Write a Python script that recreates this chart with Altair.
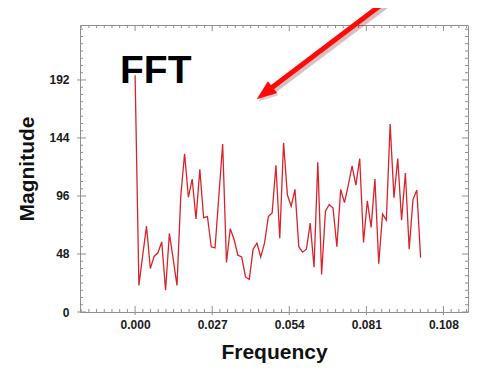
import altair as alt
import pandas as pd

# ---- data ----
freq = [0.0, 0.00133, 0.00267, 0.004, 0.00533, 0.00667, 0.008, 0.00933, 0.01067, 0.012,
        0.01333, 0.01467, 0.016, 0.01733, 0.01867, 0.02, 0.02133, 0.02267, 0.024, 0.02533,
        0.02667, 0.028, 0.02933, 0.03067, 0.032, 0.03333, 0.03467, 0.036, 0.03733, 0.03867,
        0.04, 0.04133, 0.04267, 0.044, 0.04533, 0.04667, 0.048, 0.04933, 0.05067, 0.052,
        0.05333, 0.05467, 0.056, 0.05733, 0.05867, 0.06, 0.06133, 0.06267, 0.064, 0.06533,
        0.06667, 0.068, 0.06933, 0.07067, 0.072, 0.07333, 0.07467, 0.076, 0.07733, 0.07867,
        0.08, 0.08133, 0.08267, 0.084, 0.08533, 0.08667, 0.088, 0.08933, 0.09067, 0.092,
        0.09333, 0.09467, 0.096, 0.09733, 0.09867, 0.1]
magnitude = [196, 22, 47, 71, 36, 46, 49, 58, 18, 65,
             44, 22, 96, 131, 95, 110, 77, 118, 78, 79,
             54, 53, 96, 139, 41, 69, 60, 47, 45.5, 29,
             27, 52, 57, 45.5, 57, 79, 82, 121.5, 61, 140,
             97, 87.5, 101.5, 54, 49.5, 52, 73.5, 37, 124, 31,
             83.5, 89, 86, 54, 101.5, 90.5, 105, 121, 105, 127,
             57.5, 92, 70, 110, 40, 81, 76, 155.6, 94.6, 127,
             76, 115, 52, 93, 101, 45]

x_major = [0.0, 0.027, 0.054, 0.081, 0.108]
x_minor = [-0.0189, -0.0162, -0.0135, -0.0108, -0.0081, -0.0054, -0.0027,
           0.0027, 0.0054, 0.0081, 0.0108, 0.0135, 0.0162, 0.0189, 0.0216, 0.0243,
           0.0297, 0.0324, 0.0351, 0.0378, 0.0405, 0.0432, 0.0459, 0.0486, 0.0513,
           0.0567, 0.0594, 0.0621, 0.0648, 0.0675, 0.0702, 0.0729, 0.0756, 0.0783,
           0.0837, 0.0864, 0.0891, 0.0918, 0.0945, 0.0972, 0.0999, 0.1026, 0.1053,
           0.1107, 0.1134, 0.1161]
y_major = [0, 48, 96, 144, 192]
y_minor = [6, 12, 18, 24, 30, 36, 42, 54, 60, 66, 72, 78, 84, 90, 102, 108, 114, 120,
           126, 132, 138, 150, 156, 162, 168, 174, 180, 186, 198, 204, 210, 216, 222,
           228, 234]

W, H = 388, 287
X_DOM = [-0.0193, 0.1166]
Y_DOM = [0, 237.5]
FRAME = "#8f8f8f"
FONT = "Liberation Sans"

xs = alt.Scale(domain=X_DOM, nice=False, zero=False)
ys = alt.Scale(domain=Y_DOM, nice=False, zero=False)

x_axis = alt.Axis(
    values=x_major, format=".3f", title="Frequency", ticks=False, domain=False,
    grid=False, labelFont=FONT, labelFontSize=12, labelFontWeight="bold",
    labelColor="#1a1a1a", labelPadding=7, titleFont=FONT, titleFontSize=21,
    titleFontWeight="bold", titleColor="#111111", titlePadding=11)
y_axis = alt.Axis(
    values=y_major, title="Magnitude", ticks=False, domain=False, grid=False,
    labelFont=FONT, labelFontSize=12, labelFontWeight="bold",
    labelColor="#1a1a1a", labelPadding=11, titleFont=FONT, titleFontSize=21,
    titleFontWeight="bold", titleColor="#111111", titlePadding=11)

df = pd.DataFrame({"freq": freq, "mag": magnitude})

line = alt.Chart(df).mark_line(color="#d8232a", strokeWidth=1.3).encode(
    x=alt.X("freq:Q", scale=xs, axis=x_axis),
    y=alt.Y("mag:Q", scale=ys, axis=y_axis),
)

ymaj = pd.DataFrame({"mag": y_major})
ymin = pd.DataFrame({"mag": y_minor})
xmaj = pd.DataFrame({"freq": x_major})
xmin = pd.DataFrame({"freq": x_minor})

def yticks(data, x1, x2):
    return alt.Chart(data).mark_rule(color=FRAME, strokeWidth=1).encode(
        y=alt.Y("mag:Q", scale=ys, axis=y_axis), x=alt.value(x1), x2=alt.value(x2))

def xticks(data, y1, y2):
    return alt.Chart(data).mark_rule(color=FRAME, strokeWidth=1).encode(
        x=alt.X("freq:Q", scale=xs, axis=x_axis), y=alt.value(y1), y2=alt.value(y2))

ticks = [
    yticks(ymaj, -3, 6), yticks(ymin, 0, 3),
    yticks(ymaj, W - 6, W), yticks(ymin, W - 3, W),
    xticks(xmaj, H - 6, H + 3), xticks(xmin, H - 3, H),
    xticks(xmaj, 0, 6), xticks(xmin, 0, 3),
]

one = pd.DataFrame({"a": [0]})
arrow_shadow = alt.Chart(one).mark_rule(color="#6b0000", opacity=0.25, strokeWidth=6).encode(
    x=alt.value(309.5), y=alt.value(-22), x2=alt.value(190), y2=alt.value(68))
arrow_shaft = alt.Chart(one).mark_rule(color="#ff0a0a", strokeWidth=5, strokeCap="butt").encode(
    x=alt.value(307.5), y=alt.value(-25), x2=alt.value(188), y2=alt.value(65.5))
head_shadow = alt.Chart(one).mark_point(
    shape="M0,-1L0.75,1L-0.75,1Z", filled=True, size=400, angle=232.3,
    color="#6b0000", opacity=0.2).encode(x=alt.value(186.1), y=alt.value(70.5))
arrow_head = alt.Chart(one).mark_point(
    shape="M0,-1L0.75,1L-0.75,1Z", filled=True, size=400, angle=232.3,
    color="#ff0a0a", opacity=1).encode(x=alt.value(184.6), y=alt.value(68.2))

fft = alt.Chart(one).mark_text(
    text="FFT", font=FONT, fontSize=39,
    fontWeight="bold", align="left", baseline="alphabetic", color="#000000").encode(
    x=alt.value(40), y=alt.value(58.3))

chart = alt.layer(
    line, *ticks, arrow_shadow, head_shadow, arrow_shaft, arrow_head, fft
).properties(
    width=W, height=H,
    padding={"left": 72, "top": 17, "right": 10, "bottom": 65},
    autosize=alt.AutoSizeParams(type="none"),
    background="white",
).configure_view(stroke=FRAME, strokeWidth=1)

chart.save("out.html", embed_options={"renderer": "svg", "actions": False})
